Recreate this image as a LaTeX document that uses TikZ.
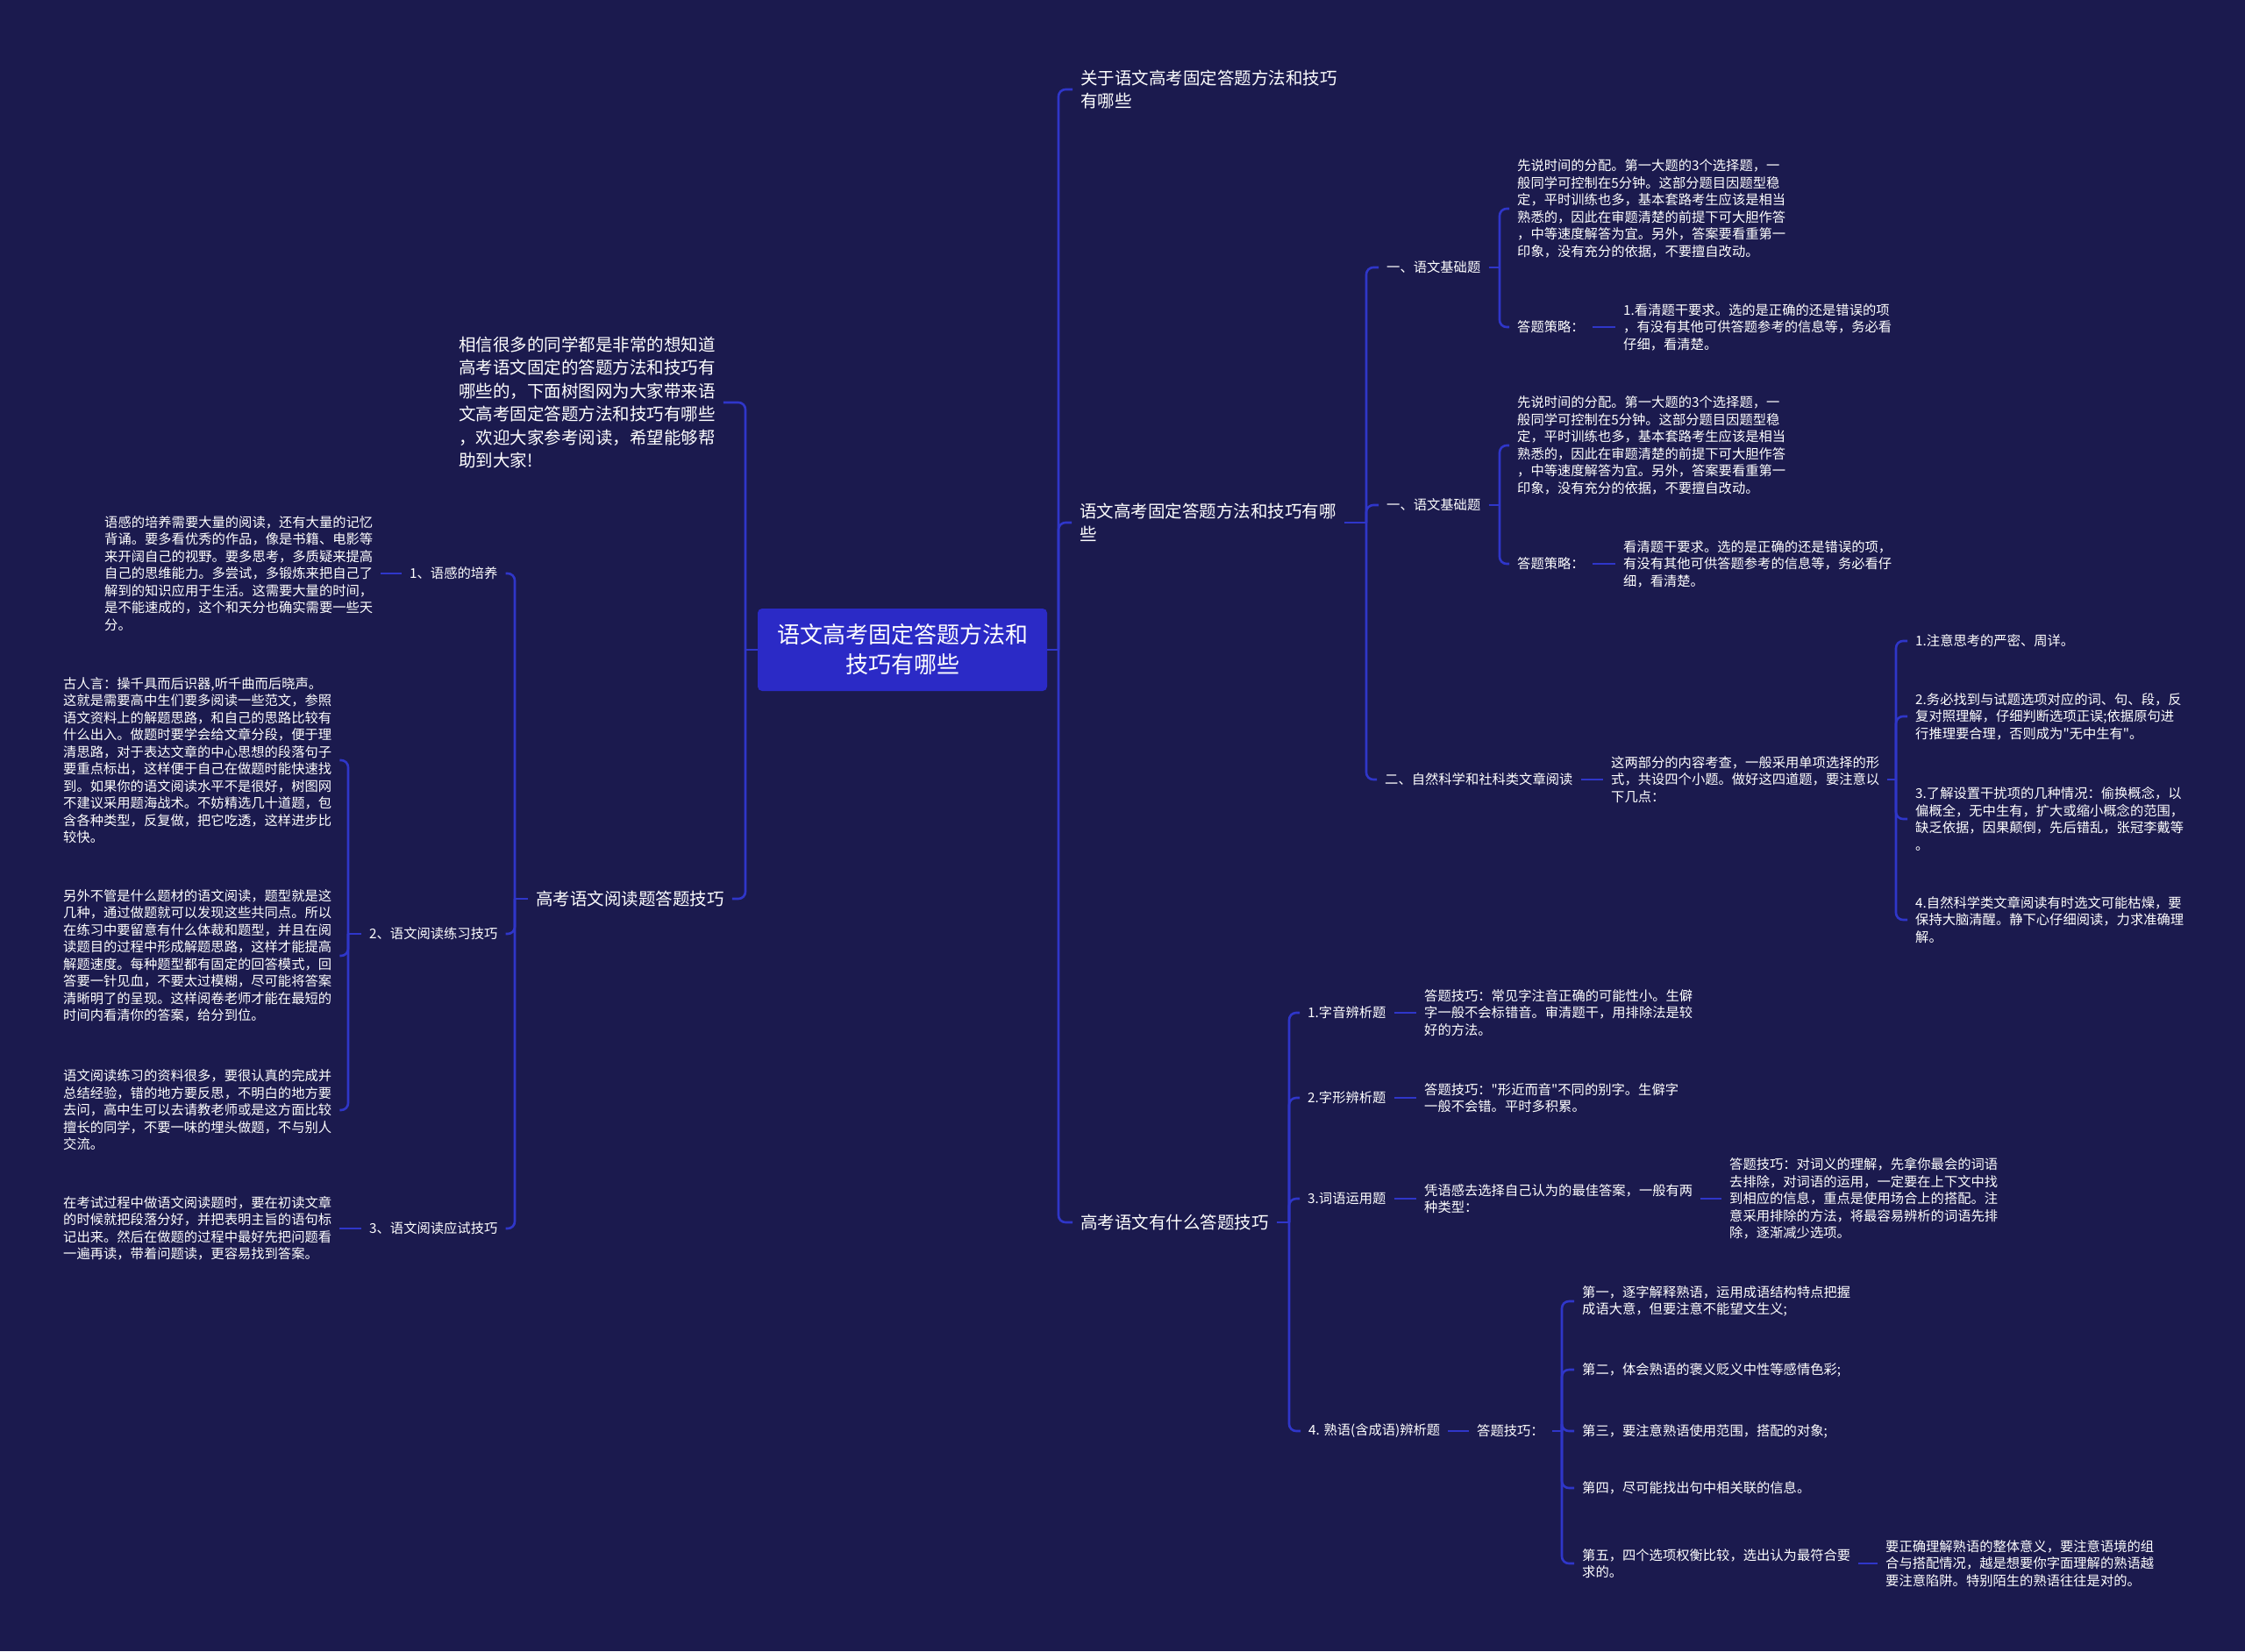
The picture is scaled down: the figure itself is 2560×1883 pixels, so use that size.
\documentclass[tikz,border=0pt]{standalone}
\usepackage{fontspec}
\setmainfont{Noto Sans CJK SC}
\newfontfamily\cjk{Noto Sans CJK SC}
\definecolor{bg}{HTML}{1B1A4E}
\definecolor{ln}{HTML}{2F36C9}
\definecolor{ctr}{HTML}{2B2AC6}
\tikzset{
  conn/.style={draw=ln, line width=2.6pt, rounded corners=8pt},
  big/.style={font=\cjk\fontsize{19.5}{26.5}\selectfont, text=white, align=left, anchor=west, inner xsep=9pt, inner ysep=3pt},
  sm/.style={font=\cjk\fontsize{15.3}{19.5}\selectfont, text=white, align=left, anchor=west, inner xsep=9pt, inner ysep=2pt},
  rootbox/.style={fill=ctr, rounded corners=5pt, minimum width=330pt, minimum height=94pt, text=white, align=center, font=\cjk\fontsize{26}{34}\selectfont},
}
\begin{document}
\begin{tikzpicture}[x=1pt,y=-1pt]
\fill[bg] (0,0) rectangle (2560,1883);
\useasboundingbox (0,0) rectangle (2560,1883);

% root
\node[rootbox] (c) at (1029,741) {语文高考固定答题方法和\\技巧有哪些};

% ---------- right side ----------
\node[big] (r1) at (1223,102) {关于语文高考固定答题方法和技巧\\有哪些};
\node[big] (r2) at (1222,596) {语文高考固定答题方法和技巧有哪\\些};
\node[big] (r3) at (1223,1394) {高考语文有什么答题技巧};
\coordinate (jr) at (1207,741);
\draw[conn] (c.east) -- (jr);
\foreach \n in {r1,r2,r3} \draw[conn] (jr) |- (\n.west);

% r2 branch
\coordinate (ja) at (1558,596);
\draw[conn] (r2.east) -- (ja);
\node[sm] (a1) at (1572,305) {一、语文基础题};
\node[sm] (a2) at (1572,576) {一、语文基础题};
\node[sm] (a3) at (1570,889) {二、自然科学和社科类文章阅读};
\foreach \n in {a1,a2,a3} \draw[conn] (ja) |- (\n.west);

\coordinate (ja1) at (1710,305);
\draw[conn] (a1.east) -- (ja1);
\node[sm] (a1a) at (1721,238) {先说时间的分配。第一大题的3个选择题，一\\般同学可控制在5分钟。这部分题目因题型稳\\定，平时训练也多，基本套路考生应该是相当\\熟悉的，因此在审题清楚的前提下可大胆作答\\，中等速度解答为宜。另外，答案要看重第一\\印象，没有充分的依据，不要擅自改动。};
\node[sm] (a1b) at (1721,373) {答题策略：};
\node[sm] (a1c) at (1842,373) {1.看清题干要求。选的是正确的还是错误的项\\，有没有其他可供答题参考的信息等，务必看\\仔细，看清楚。};
\draw[conn] (ja1) |- (a1a.west);
\draw[conn] (ja1) |- (a1b.west);
\draw[conn] (a1b.east) -- (a1c.west);

\coordinate (ja2) at (1710,576);
\draw[conn] (a2.east) -- (ja2);
\node[sm] (a2a) at (1721,508) {先说时间的分配。第一大题的3个选择题，一\\般同学可控制在5分钟。这部分题目因题型稳\\定，平时训练也多，基本套路考生应该是相当\\熟悉的，因此在审题清楚的前提下可大胆作答\\，中等速度解答为宜。另外，答案要看重第一\\印象，没有充分的依据，不要擅自改动。};
\node[sm] (a2b) at (1721,643) {答题策略：};
\node[sm] (a2c) at (1842,643) {看清题干要求。选的是正确的还是错误的项，\\有没有其他可供答题参考的信息等，务必看仔\\细，看清楚。};
\draw[conn] (ja2) |- (a2a.west);
\draw[conn] (ja2) |- (a2b.west);
\draw[conn] (a2b.east) -- (a2c.west);

\node[sm] (a3t) at (1828,889) {这两部分的内容考查，一般采用单项选择的形\\式，共设四个小题。做好这四道题，要注意以\\下几点：};
\draw[conn] (a3.east) -- (a3t.west);
\coordinate (ja3) at (2162,889);
\draw[conn] (a3t.east) -- (ja3);
\node[sm] (n1) at (2175,731) {1.注意思考的严密、周详。};
\node[sm] (n2) at (2175,817) {2.务必找到与试题选项对应的词、句、段，反\\复对照理解，仔细判断选项正误;依据原句进\\行推理要合理，否则成为"无中生有"。};
\node[sm] (n3) at (2175,934) {3.了解设置干扰项的几种情况：偷换概念，以\\偏概全，无中生有，扩大或缩小概念的范围，\\缺乏依据，因果颠倒，先后错乱，张冠李戴等\\。};
\node[sm] (n4) at (2175,1049) {4.自然科学类文章阅读有时选文可能枯燥，要\\保持大脑清醒。静下心仔细阅读，力求准确理\\解。};
\foreach \n in {n1,n2,n3,n4} \draw[conn] (ja3) |- (\n.west);

% r3 branch
\coordinate (jb) at (1470,1394);
\draw[conn] (r3.east) -- (jb);
\node[sm] (b1) at (1482,1155) {1.字音辨析题};
\node[sm] (b2) at (1482,1252) {2.字形辨析题};
\node[sm] (b3) at (1482,1367) {3.词语运用题};
\node[sm] (b4) at (1483,1632) {4. 熟语(含成语)辨析题};
\foreach \n in {b1,b2,b3,b4} \draw[conn] (jb) |- (\n.west);

\node[sm] (b1t) at (1615,1155) {答题技巧：常见字注音正确的可能性小。生僻\\字一般不会标错音。审清题干，用排除法是较\\好的方法。};
\node[sm] (b2t) at (1615,1252) {答题技巧："形近而音"不同的别字。生僻字\\一般不会错。平时多积累。};
\node[sm] (b3t) at (1615,1367) {凭语感去选择自己认为的最佳答案，一般有两\\种类型：};
\node[sm] (b3u) at (1963,1367) {答题技巧：对词义的理解，先拿你最会的词语\\去排除，对词语的运用，一定要在上下文中找\\到相应的信息，重点是使用场合上的搭配。注\\意采用排除的方法，将最容易辨析的词语先排\\除，逐渐减少选项。};
\draw[conn] (b1.east) -- (b1t.west);
\draw[conn] (b2.east) -- (b2t.west);
\draw[conn] (b3.east) -- (b3t.west);
\draw[conn] (b3t.east) -- (b3u.west);

\node[sm] (b4t) at (1675,1632) {答题技巧：};
\draw[conn] (b4.east) -- (b4t.west);
\coordinate (jb4) at (1781,1632);
\draw[conn] (b4t.east) -- (jb4);
\node[sm] (d1) at (1795,1484) {第一，逐字解释熟语，运用成语结构特点把握\\成语大意，但要注意不能望文生义;};
\node[sm] (d2) at (1795,1562) {第二，体会熟语的褒义贬义中性等感情色彩;};
\node[sm] (d3) at (1795,1632) {第三，要注意熟语使用范围，搭配的对象;};
\node[sm] (d4) at (1795,1697) {第四，尽可能找出句中相关联的信息。};
\node[sm] (d5) at (1795,1783) {第五，四个选项权衡比较，选出认为最符合要\\求的。};
\foreach \n in {d1,d2,d3,d4,d5} \draw[conn] (jb4) |- (\n.west);
\node[sm] (d5t) at (2141,1783) {要正确理解熟语的整体意义，要注意语境的组\\合与搭配情况，越是想要你字面理解的熟语越\\要注意陷阱。特别陌生的熟语往往是对的。};
\draw[conn] (d5.east) -- (d5t.west);

% ---------- left side ----------
\coordinate (jl) at (850,741);
\draw[conn] (c.west) -- (jl);
\node[big] (l1) at (514,459) {相信很多的同学都是非常的想知道\\高考语文固定的答题方法和技巧有\\哪些的，下面树图网为大家带来语\\文高考固定答题方法和技巧有哪些\\，欢迎大家参考阅读，希望能够帮\\助到大家!};
\node[big] (l2) at (602,1025) {高考语文阅读题答题技巧};
\draw[conn] (jl) |- (l1.east);
\draw[conn] (jl) |- (l2.east);

\coordinate (jl2) at (587,1025);
\draw[conn] (l2.west) -- (jl2);
\node[sm] (ll1) at (458,654) {1、语感的培养};
\node[sm] (ll2) at (412,1065) {2、语文阅读练习技巧};
\node[sm] (ll3) at (412,1401) {3、语文阅读应试技巧};
\foreach \n in {ll1,ll2,ll3} \draw[conn] (jl2) |- (\n.east);

\node[sm] (lll1) at (110,654) {语感的培养需要大量的阅读，还有大量的记忆\\背诵。要多看优秀的作品，像是书籍、电影等\\来开阔自己的视野。要多思考，多质疑来提高\\自己的思维能力。多尝试，多锻炼来把自己了\\解到的知识应用于生活。这需要大量的时间，\\是不能速成的，这个和天分也确实需要一些天\\分。};
\draw[conn] (ll1.west) -- (lll1.east);

\coordinate (jll2) at (397,1065);
\draw[conn] (ll2.west) -- (jll2);
\node[sm] (lll2a) at (63,867) {古人言：操千具而后识器,听千曲而后晓声。\\这就是需要高中生们要多阅读一些范文，参照\\语文资料上的解题思路，和自己的思路比较有\\什么出入。做题时要学会给文章分段，便于理\\清思路，对于表达文章的中心思想的段落句子\\要重点标出，这样便于自己在做题时能快速找\\到。如果你的语文阅读水平不是很好，树图网\\不建议采用题海战术。不妨精选几十道题，包\\含各种类型，反复做，把它吃透，这样进步比\\较快。};
\node[sm] (lll2b) at (63,1090) {另外不管是什么题材的语文阅读，题型就是这\\几种，通过做题就可以发现这些共同点。所以\\在练习中要留意有什么体裁和题型，并且在阅\\读题目的过程中形成解题思路，这样才能提高\\解题速度。每种题型都有固定的回答模式，回\\答要一针见血，不要太过模糊，尽可能将答案\\清晰明了的呈现。这样阅卷老师才能在最短的\\时间内看清你的答案，给分到位。};
\node[sm] (lll2c) at (63,1266) {语文阅读练习的资料很多，要很认真的完成并\\总结经验，错的地方要反思，不明白的地方要\\去问，高中生可以去请教老师或是这方面比较\\擅长的同学，不要一味的埋头做题，不与别人\\交流。};
\foreach \n in {lll2a,lll2b,lll2c} \draw[conn] (jll2) |- (\n.east);

\node[sm] (lll3) at (63,1401) {在考试过程中做语文阅读题时，要在初读文章\\的时候就把段落分好，并把表明主旨的语句标\\记出来。然后在做题的过程中最好先把问题看\\一遍再读，带着问题读，更容易找到答案。};
\draw[conn] (ll3.west) -- (lll3.east);
\end{tikzpicture}
\end{document}
